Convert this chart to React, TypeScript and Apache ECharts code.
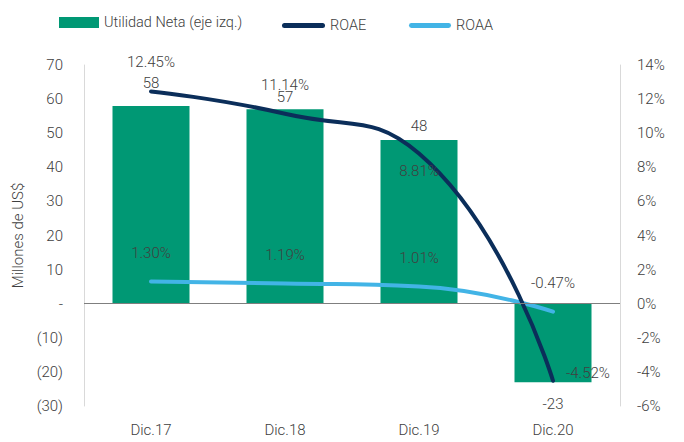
import React, { useEffect, useRef } from "react";
import * as echarts from "echarts";

const categories = ["Dic.17", "Dic.18", "Dic.19", "Dic.20"];
const utilidadNeta = [58, 57, 48, -23];
const roae = [12.45, 11.14, 8.81, -4.52];
const roaa = [1.3, 1.19, 1.01, -0.47];

const FONT = "Roboto";
const TXT = "#404040";
const CAPSULE = "path://M2.5,0 L40.5,0 A2.5,2.5 0 0 1 40.5,5 L2.5,5 A2.5,2.5 0 0 1 2.5,0 Z";
const barLabelDistances = [15, 5, 7, 14];

export default function App() {
  const ref = useRef<HTMLDivElement>(null);
  useEffect(() => {
    if (!ref.current) return;
    const chart = echarts.init(ref.current, null, { renderer: "svg" });
    const baseText = { fontFamily: FONT, fontWeight: 300, fontSize: 15, color: TXT };
    const legendText = { fontFamily: FONT, fontWeight: 300, fontSize: 14.5, color: TXT };
    chart.setOption({
      animation: false,
      textStyle: { fontFamily: FONT },
      grid: { left: 84, right: 64, top: 65, bottom: 36 },
      legend: [
        {
          left: 54, top: 10, itemWidth: 40, itemHeight: 11, itemGap: 4,
          data: [{ name: "Utilidad Neta (eje izq.)", icon: "rect" }],
          textStyle: legendText,
        },
        {
          left: 277, top: 13, itemWidth: 43, itemHeight: 5,
          data: [{ name: "ROAE", icon: CAPSULE }], textStyle: legendText,
        },
        {
          left: 404, top: 13, itemWidth: 42, itemHeight: 5,
          data: [{ name: "ROAA", icon: CAPSULE }], textStyle: legendText,
        },
      ],
      xAxis: {
        type: "category",
        data: categories,
        axisLine: { show: false },
        axisTick: { show: false },
        axisLabel: { ...baseText, margin: 16 },
      },
      yAxis: [
        {
          type: "value",
          min: -30, max: 70, interval: 10,
          name: "Millones de US$",
          nameLocation: "middle",
          nameGap: 56,
          nameTextStyle: baseText,
          axisLine: { show: true, lineStyle: { color: "#d9d9d9" } },
          axisTick: { show: false },
          splitLine: { show: false },
          axisLabel: {
            ...baseText,
            margin: 21,
            formatter: (v: number) => (v < 0 ? `(${-v})` : v === 0 ? "-" : `${v}`),
          },
        },
        {
          type: "value",
          min: -6, max: 14, interval: 2,
          position: "right",
          axisLine: { show: true, lineStyle: { color: "#d9d9d9" } },
          axisTick: { show: false },
          splitLine: { show: false },
          axisLabel: { ...baseText, margin: 17, formatter: (v: number) => `${v}%` },
        },
      ],
      series: [
        {
          name: "Utilidad Neta (eje izq.)",
          type: "bar",
          yAxisIndex: 0,
          barWidth: 77,
          itemStyle: { color: "#009874" },
          data: utilidadNeta.map((v, i) => ({
            value: v,
            label: { position: v < 0 ? "bottom" : "top", distance: barLabelDistances[i] },
          })),
          label: { show: true, ...baseText },
          markLine: {
            silent: true,
            symbol: "none",
            label: { show: false },
            lineStyle: { color: "#7f7f7f", type: "solid", width: 1 },
            data: [{ yAxis: 0 }],
          },
          z: 1,
        },
        {
          name: "ROAE",
          type: "line",
          yAxisIndex: 1,
          smooth: 0.5,
          symbol: "circle",
          symbolSize: 2,
          showSymbol: true,
          lineStyle: { color: "#0b2e5a", width: 4, cap: "round" },
          itemStyle: { color: "#0b2e5a" },
          label: { show: true, ...baseText, position: "top", distance: 21, formatter: (p: any) => `${Number(p.value).toFixed(2)}%` },
          data: roae.map((v, i) => {
            if (i === 1) return { value: v, label: { distance: 20 } };
            if (i === 2) return { value: v, label: { position: "bottom", distance: 9 } };
            if (i === 3) return { value: v, label: { position: "right", distance: 12, offset: [0, -8] } };
            return { value: v };
          }),
          z: 3,
        },
        {
          name: "ROAA",
          type: "line",
          yAxisIndex: 1,
          smooth: 0.5,
          symbol: "circle",
          symbolSize: 2,
          showSymbol: true,
          lineStyle: { color: "#42b4e6", width: 4, cap: "round" },
          itemStyle: { color: "#42b4e6" },
          label: { show: true, ...baseText, position: "top", distance: 20, formatter: (p: any) => `${Number(p.value).toFixed(2)}%` },
          data: roaa,
          z: 2,
        },
      ],
    });
    return () => chart.dispose();
  }, []);
  return <div ref={ref} style={{ width: 684, height: 442, position: "absolute", left: 0, top: 0, background: "#fff" }} />;
}
